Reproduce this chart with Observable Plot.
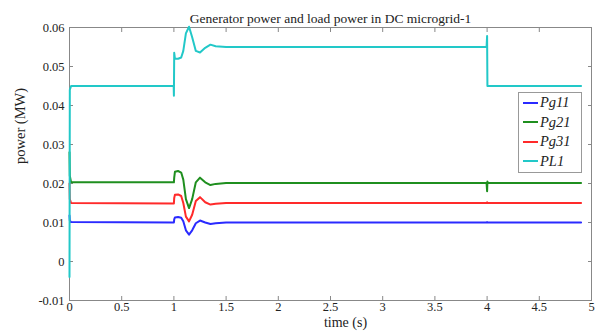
<!DOCTYPE html>
<html>
<head>
<meta charset="utf-8">
<script src="https://cdn.jsdelivr.net/npm/d3@7"></script>
<script src="https://cdn.jsdelivr.net/npm/@observablehq/plot@0.6"></script>
<style>
  body { margin: 0; background: white; }
  #wrap { position: relative; width: 601px; height: 335px; }
  #wrap svg text { font-family: 'Liberation Serif', serif !important; font-variant: normal; }
  #legend { position: absolute; left: 518px; top: 92px; width: 62px; padding: 0 0 1px 0;
    border: 1px solid #999; background: white; font-family: 'Liberation Serif', serif;
    font-style: italic; font-size: 14.5px; line-height: 19.5px; color: #222; }
  #legend .row { display: flex; align-items: center; }
  #legend .sw { width: 15px; height: 2px; margin: 0 2px 0 4px; }
</style>
</head>
<body>
<div id="wrap"></div>
<script>
const title = "Generator power and load power in DC microgrid-1";
const xLabel = "time (s)";
const yLabel = "power (MW)";
const seriesNames = ["Pg11", "Pg21", "Pg31", "PL1"];
const seriesColors = ["#2a2aff", "#1f8f1f", "#ff2a2a", "#22c8c8"];

const xTicks = [0, 0.5, 1, 1.5, 2, 2.5, 3, 3.5, 4, 4.5, 5];
const xTickLabels = ["0", "0.5", "1", "1.5", "2", "2.5", "3", "3.5", "4", "4.5", "5"];
const yTicks = [-0.01, 0, 0.01, 0.02, 0.03, 0.04, 0.05, 0.06];
const yTickLabels = ["-0.01", "0", "0.01", "0.02", "0.03", "0.04", "0.05", "0.06"];

const time = [0, 0.003, 0.015, 0.998, 1.0, 1.003, 1.01, 1.04, 1.07, 1.09, 1.115, 1.145, 1.175, 1.21, 1.25, 1.3, 1.35, 1.4, 1.5, 3.995, 4.0, 4.003, 4.01, 4.9];
const pg11 = [0.0118, 0.0105, 0.0101, 0.0100, 0.0100, 0.0108, 0.0113, 0.0114, 0.0112, 0.0103, 0.0080, 0.0069, 0.0080, 0.0098, 0.0105, 0.0100, 0.0096, 0.0098, 0.0100, 0.0100, 0.0101, 0.0100, 0.0100, 0.0100];
const pg21 = [0.0280, 0.0220, 0.0203, 0.0203, 0.0203, 0.0215, 0.0230, 0.0232, 0.0228, 0.0210, 0.0160, 0.0137, 0.0160, 0.0203, 0.0215, 0.0203, 0.0196, 0.0199, 0.0201, 0.0201, 0.0180, 0.0205, 0.0201, 0.0201];
const pg31 = [0.0200, 0.0160, 0.0150, 0.0149, 0.0149, 0.0163, 0.0171, 0.0172, 0.0168, 0.0150, 0.0115, 0.0103, 0.0120, 0.0155, 0.0165, 0.0152, 0.0146, 0.0148, 0.0150, 0.0150, 0.0152, 0.0150, 0.0150, 0.0150];
const pl1  = [-0.004, 0.0440, 0.0450, 0.0450, 0.0425, 0.0535, 0.0520, 0.0520, 0.0523, 0.0540, 0.0585, 0.0602, 0.0575, 0.0540, 0.0536, 0.0548, 0.0556, 0.0552, 0.0550, 0.0550, 0.0578, 0.0450, 0.0450, 0.0450];

const seriesValues = [pg11, pg21, pg31, pl1];
const data = seriesNames.flatMap((name, s) => time.map((t, i) => ({t, v: seriesValues[s][i], name})));

const xFmt = d => xTickLabels[xTicks.indexOf(d)] ?? "";
const yFmt = d => { const i = yTicks.findIndex(v => Math.abs(v - d) < 1e-9); return i >= 0 ? yTickLabels[i] : ""; };
const serif = "'Liberation Serif', serif";

const chart = Plot.plot({
  width: 601,
  height: 335,
  marginTop: 27,
  marginBottom: 35,
  marginLeft: 69,
  marginRight: 10,
  style: { fontFamily: serif, fontSize: "12.5px", background: "white", color: "#222" },
  x: { domain: [0, 5] },
  y: { domain: [-0.01, 0.06] },
  color: { domain: seriesNames, range: seriesColors },
  marks: [
    Plot.frame({ stroke: "#888" }),
    Plot.axisX({ ticks: xTicks, tickSize: -4, tickPadding: 6, tickFormat: xFmt, label: null, stroke: "#888", fontFamily: serif, fontSize: 12.5 }),
    Plot.axisX({ anchor: "top", ticks: xTicks, tickSize: -4, tickFormat: () => "", label: null, stroke: "#888" }),
    Plot.axisY({ ticks: yTicks, tickSize: -4, tickPadding: 9, tickFormat: yFmt, label: null, stroke: "#888", fontFamily: serif, fontSize: 12.5 }),
    Plot.axisY({ anchor: "right", ticks: yTicks, tickSize: -4, tickFormat: () => "", label: null, stroke: "#888" }),
    Plot.line(data, { x: "t", y: "v", z: "name", stroke: "name", strokeWidth: 2 }),
    Plot.text([title], { frameAnchor: "top", dy: -14, fontSize: 13.5, fontFamily: serif }),
    Plot.text([xLabel], { frameAnchor: "bottom", dx: 15, dy: 26.5, fontSize: 14, fontFamily: serif }),
    Plot.text([yLabel], { frameAnchor: "left", dx: -49, rotate: -90, fontSize: 14.5, fontFamily: serif })
  ]
});
const wrap = document.getElementById("wrap");
wrap.appendChild(chart);

const legend = document.createElement("div");
legend.id = "legend";
seriesNames.forEach((name, i) => {
  const row = document.createElement("div");
  row.className = "row";
  const sw = document.createElement("span");
  sw.className = "sw";
  sw.style.background = seriesColors[i];
  const lab = document.createElement("span");
  lab.textContent = name;
  row.appendChild(sw);
  row.appendChild(lab);
  legend.appendChild(row);
});
wrap.appendChild(legend);
</script>
</body>
</html>
